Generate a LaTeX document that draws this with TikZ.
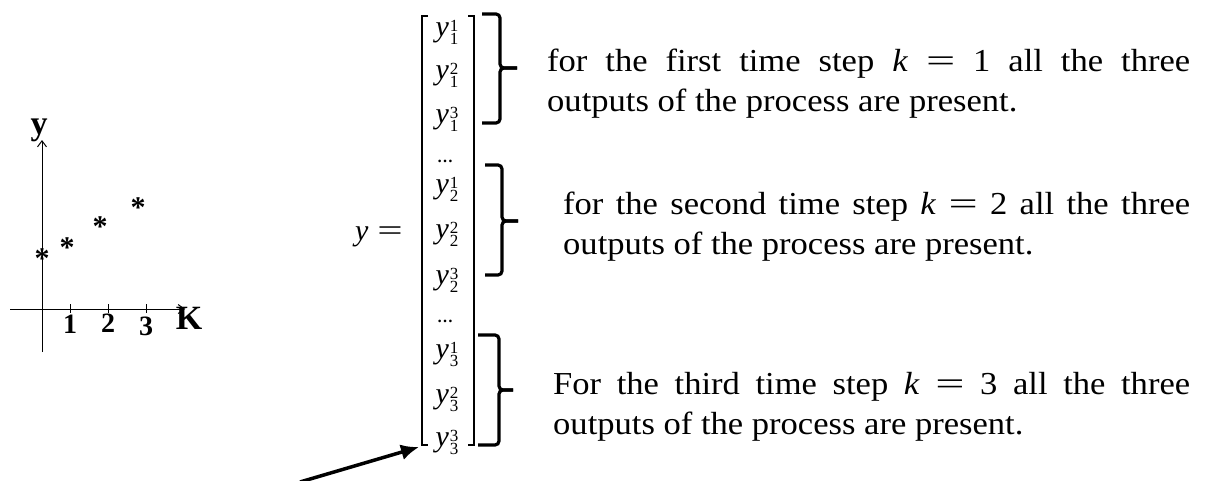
\documentclass[tikz,border=0pt]{standalone}
\usepackage{fontspec}
\usepackage{graphicx}
\setmainfont{Liberation Serif}
\newfontfamily\descfont[FakeStretch=1.08]{Liberation Serif}
\usetikzlibrary{arrows.meta}
\newcommand\yent[2]{\textit{y}\kern1pt\rlap{\raisebox{-8pt}{\fontsize{17}{17}\selectfont #1}}\raisebox{5pt}{\fontsize{17}{17}\selectfont #2}}
\newcommand\wideeq{\scalebox{1.5}[1]{=}}
\begin{document}
\begin{tikzpicture}[x=1pt,y=-1pt,
  axis/.style={line width=1pt, -{Straight Barb[length=6pt,width=9pt]}},
  axlabel/.style={font=\bfseries\fontsize{28}{28}\selectfont, inner sep=0},
  starmark/.style={font=\bfseries\fontsize{30}{30}\selectfont, inner sep=0, anchor=base},
  entry/.style={font=\fontsize{30}{34}\selectfont, inner sep=0, anchor=base},
  dotsmark/.style={font=\bfseries\fontsize{16}{16}\selectfont, inner sep=0, anchor=base},
  bracket/.style={line width=1.7pt},
  bracestyle/.style={line width=3.2pt, rounded corners=4pt},
  desc/.style={font=\descfont\fontsize{32}{40}\selectfont, inner sep=0, anchor=base west, align=justify},
  pointer/.style={line width=3.5pt, -{Latex[length=18pt,width=16pt]}}
]
\fill[white] (0,0) rectangle (1209,480);
\useasboundingbox (0,0) rectangle (1209,480);

% ---- small plot ----
\coordinate (ybot) at (42,352);
\coordinate (ytop) at (42,140);
\coordinate (xleft) at (10,309);
\coordinate (xright) at (185,309);
\draw[axis] (ybot) -- (ytop);
\draw[axis] (xleft) -- (xright);
\foreach \x in {70,108,146}{
  \draw[line width=1pt] (\x,304) -- (\x,313);
}
\node[axlabel] (l1) at (70,324) {1};
\node[axlabel] (l2) at (108,323) {2};
\node[axlabel] (l3) at (146,326) {3};
\node[axlabel, font=\bfseries\fontsize{34}{34}\selectfont] (lk) at (189,318) {K};
\node[axlabel, font=\bfseries\fontsize{34}{34}\selectfont] (ly) at (39,130) {y};
\node[starmark] (s0) at (42,268) {*};
\node[starmark] (s1) at (67,257) {*};
\node[starmark] (s2) at (100,236) {*};
\node[starmark] (s3) at (138,217) {*};

% ---- vector ----
\node[entry] (yeq) at (379,240) {\textit{y}\hspace{9pt}\wideeq};
\foreach \i/\j/\yy in {1/1/36,1/2/79,1/3/123,2/1/193,2/2/238,2/3/284,3/1/358,3/2/403,3/3/446}{
  \node[entry] (y\i\j) at (447,\yy) {\yent{\i}{\j}};
}
\node[dotsmark] (d1) at (445,162) {…};
\node[dotsmark] (d2) at (445,322) {…};
\draw[bracket] (428,16) -- (422,16) -- (422,445) -- (428,445);
\draw[bracket] (468,16) -- (474,16) -- (474,445) -- (468,445);

% ---- braces ----
\draw[bracestyle] (482,14) -| (500,68) -- (517,68);
\draw[bracestyle] (482,123) -| (500,68) -- (517,68);
\draw[bracestyle] (485,165) -| (502,221) -- (518,221);
\draw[bracestyle] (485,275) -| (502,221) -- (518,221);
\draw[bracestyle] (478,335) -| (499,390) -- (513,390);
\draw[bracestyle] (478,445) -| (499,390) -- (513,390);

% ---- descriptions ----
\node[desc, text width=643pt] (t1) at (547,71)
  {for the first time step \textit{k} \wideeq{} 1 all the three\linebreak outputs of the process are present.};
\node[desc, text width=627pt] (t2) at (563,214)
  {for the second time step \textit{k} \wideeq{} 2 all the three\linebreak outputs of the process are present.};
\node[desc, text width=637pt] (t3) at (553,394)
  {For the third time step \textit{k} \wideeq{} 3 all the three\linebreak outputs of the process are present.};

% ---- pointer ----
\coordinate (pstart) at (300,482);
\coordinate (brbot) at (419,447);
\draw[pointer] (pstart) -- (brbot);
\end{tikzpicture}
\end{document}
